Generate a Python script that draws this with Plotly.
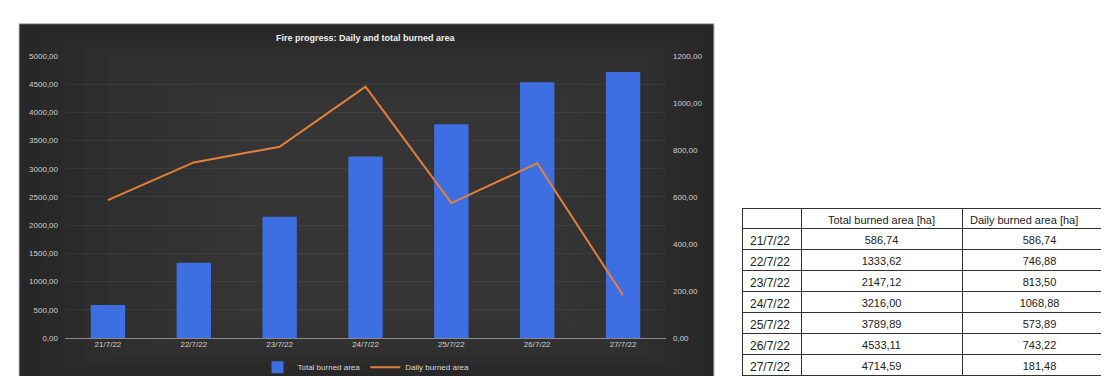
import plotly.graph_objects as go

dates = ["21/7/22", "22/7/22", "23/7/22", "24/7/22", "25/7/22", "26/7/22", "27/7/22"]
total_burned = [586.74, 1333.62, 2147.12, 3216.00, 3789.89, 4533.11, 4714.59]
daily_burned = [586.74, 746.88, 813.50, 1068.88, 573.89, 743.22, 181.48]
total_labels = ["586,74", "1333,62", "2147,12", "3216,00", "3789,89", "4533,11", "4714,59"]
daily_labels = ["586,74", "746,88", "813,50", "1068,88", "573,89", "743,22", "181,48"]
left_ticks = [0, 500, 1000, 1500, 2000, 2500, 3000, 3500, 4000, 4500, 5000]
right_ticks = [0, 200, 400, 600, 800, 1000, 1200]

W, H = 1109, 376
def px(x):
    return x / W
def py(y):
    return 1 - y / H

fig = go.Figure()

fig.add_trace(go.Bar(
    x=dates, y=total_burned, name="Total burned area",
    marker=dict(color="#3E6FE2", line=dict(width=0)),
    yaxis="y", xaxis="x",
))
fig.add_trace(go.Scatter(
    x=dates, y=daily_burned, name="Daily burned area",
    mode="lines", line=dict(color="#E5803C", width=2),
    yaxis="y2", xaxis="x",
))

fig.add_trace(go.Table(
    domain=dict(x=[px(734), 1.0], y=[py(376), py(201)]),
    columnwidth=[59, 161, 155],
    header=dict(
        values=["", "Total burned area [ha]", "Daily burned area [ha]"],
        align=["center", "center", "left"],
        fill_color="white",
        line=dict(color="#333333", width=1),
        font=dict(family="Liberation Sans, Arial", size=11, color="#222222"),
        height=20,
    ),
    cells=dict(
        values=[dates, total_labels, daily_labels],
        align=["left", "center", "center"],
        fill_color="white",
        line=dict(color="#333333", width=1),
        font=dict(family="Liberation Sans, Arial", size=[12, 11, 11], color="#222222"),
        height=21,
    ),
))

# dark chart background with a soft vignette (many faint nested rects)
shapes = [
    dict(type="rect", xref="paper", yref="paper", x0=px(11), x1=px(706), y0=py(376), y1=py(12),
         fillcolor="#272727", line=dict(color="#bdbdbd", width=1), layer="below"),
]
for i in range(1, 11):
    shapes.append(dict(type="rect", xref="paper", yref="paper",
                       x0=px(11 + 22 * i), x1=px(706 - 16 * i),
                       y0=py(376 - 6 * i), y1=py(12 + 8 * i),
                       fillcolor="rgba(90,90,90,0.045)", line=dict(width=0), layer="below"))

fig.update_layout(
    width=W, height=H,
    margin=dict(l=0, r=0, t=0, b=0),
    paper_bgcolor="white",
    plot_bgcolor="rgba(0,0,0,0)",
    separators=",.",
    shapes=shapes,
    bargap=0.6,
    showlegend=True,
    legend=dict(orientation="h", x=px(358), xanchor="center", y=py(364), yanchor="middle",
                font=dict(family="Liberation Sans, Arial", size=8, color="#d9d9d9"),
                bgcolor="rgba(0,0,0,0)", itemwidth=30),
    xaxis=dict(domain=[px(57), px(658)], showgrid=False, zeroline=False,
               tickfont=dict(family="Liberation Sans, Arial", size=8, color="#d0d0d0"),
               ticks="", showline=False),
    yaxis=dict(domain=[py(334), py(45)], range=[0, 5000], tickvals=left_ticks, tickformat=".2f",
               showgrid=True, gridcolor="rgba(255,255,255,0.05)", zeroline=True,
               zerolinecolor="#8a8a8a", zerolinewidth=1,
               tickfont=dict(family="Liberation Sans, Arial", size=8, color="#d0d0d0"),
               ticks="", ticklabelstandoff=6),
    yaxis2=dict(overlaying="y", side="right", range=[0, 1200], tickvals=right_ticks, tickformat=".2f",
                showgrid=False, zeroline=False,
                tickfont=dict(family="Liberation Sans, Arial", size=8, color="#d0d0d0"),
                ticks="", ticklabelstandoff=6),
    annotations=[dict(text="<b>Fire progress: Daily and total burned area</b>", xref="paper", yref="paper",
                      x=px(358), y=py(27), xanchor="center", yanchor="middle", showarrow=False,
                      font=dict(family="Liberation Sans, Arial", size=9, color="#f0f0f0"))],
)

fig.write_html("out.html")
